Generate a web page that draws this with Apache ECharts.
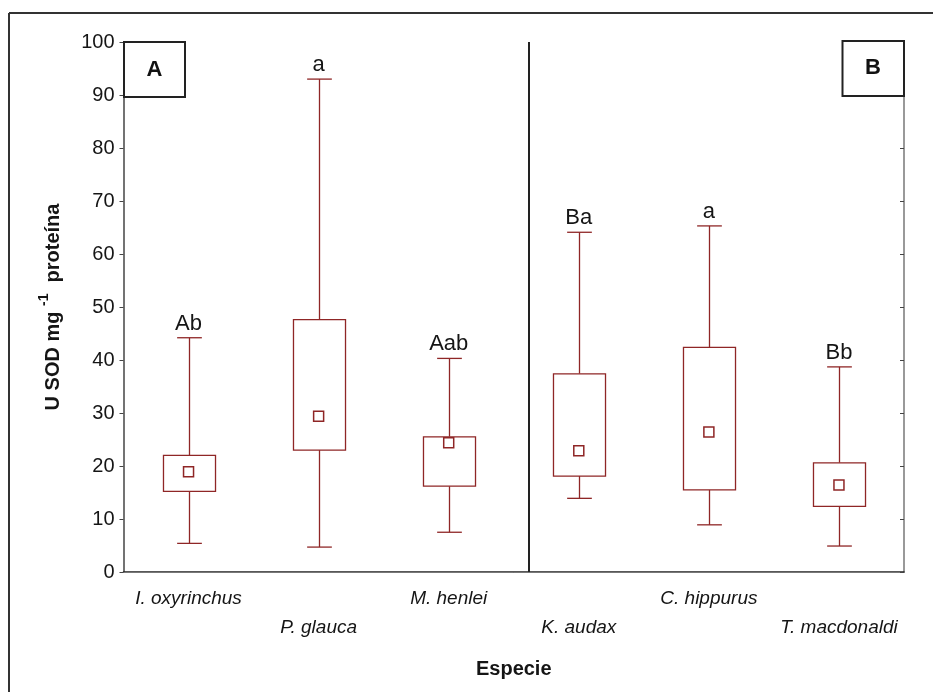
<!DOCTYPE html>
<html>
<head>
<meta charset="utf-8">
<script src="https://cdn.jsdelivr.net/npm/echarts@6/dist/echarts.min.js"></script>
<style>
  html, body { margin: 0; padding: 0; background: #fff; }
  #chart { width: 933px; height: 692px; }
</style>
</head>
<body>
<div id="chart"></div>
<script>
// Superoxide dismutase activity per species (box: 25–75 %, whiskers: range, square: central value)
const species = ['I. oxyrinchus', 'P. glauca', 'M. henlei', 'K. audax', 'C. hippurus', 'T. macdonaldi'];
const whiskerLow  = [5.4, 4.7, 7.5, 13.9, 8.9, 4.9];
const boxLow      = [15.2, 23.0, 16.2, 18.1, 15.5, 12.4];
const boxHigh     = [22.0, 47.6, 25.5, 37.4, 42.4, 20.6];
const whiskerHigh = [44.2, 93.0, 40.3, 64.1, 65.3, 38.7];
const centre      = [18.9, 29.4, 24.4, 22.9, 26.4, 16.4];
const groupLetters = ['Ab', 'a', 'Aab', 'Ba', 'a', 'Bb'];
const yTicks = [0, 10, 20, 30, 40, 50, 60, 70, 80, 90, 100];

const RED = '#8f2626';
const TEXT = '#151515';
const FONT = '"Liberation Sans", Arial, sans-serif';

const gridBox = { left: 123.5, top: 42, width: 780.5, height: 530 };

function renderBox(params, api) {
  const i = api.value(0);
  const pLow = api.coord([i, api.value(1)]);
  const pQ1 = api.coord([i, api.value(2)]);
  const pQ3 = api.coord([i, api.value(3)]);
  const pHigh = api.coord([i, api.value(4)]);
  const band = api.size([1, 0])[0];
  const bw = band * 0.4;
  const cw = band * 0.19;
  const x = Math.round(pLow[0]) + 0.5;
  const st = { stroke: RED, lineWidth: 1.3, fill: null };
  return {
    type: 'group',
    children: [
      { type: 'line', shape: { x1: x, y1: pLow[1], x2: x, y2: pQ1[1] }, style: st },
      { type: 'line', shape: { x1: x, y1: pQ3[1], x2: x, y2: pHigh[1] }, style: st },
      { type: 'line', shape: { x1: x - cw / 2, y1: pLow[1], x2: x + cw / 2, y2: pLow[1] }, style: st },
      { type: 'line', shape: { x1: x - cw / 2, y1: pHigh[1], x2: x + cw / 2, y2: pHigh[1] }, style: st },
      { type: 'rect', shape: { x: x - bw / 2, y: pQ3[1], width: bw, height: pQ1[1] - pQ3[1] },
        style: { stroke: RED, lineWidth: 1.3, fill: '#fff' } }
    ]
  };
}

const chart = echarts.init(document.getElementById('chart'), null, { renderer: 'canvas' });

chart.setOption({
  animation: false,
  backgroundColor: '#fff',
  grid: gridBox,
  xAxis: [
    {
      type: 'category', data: species, position: 'bottom', boundaryGap: true,
      axisLine: { lineStyle: { color: '#222', width: 1.5 } },
      axisTick: { inside: true, length: 4, alignWithLabel: true, lineStyle: { color: '#666' } },
      axisLabel: {
        interval: 0, margin: 12, color: TEXT, fontFamily: FONT, fontSize: 19, fontStyle: 'italic',
        lineHeight: 29,
        formatter: (v, idx) => (idx % 2 === 1 ? '\n' + v : v)
      },
      splitLine: { show: false },
      name: 'Especie', nameLocation: 'middle', nameGap: 87,
      nameTextStyle: { fontFamily: FONT, fontSize: 20, fontWeight: 'bold', color: TEXT }
    },
    {
      type: 'category', data: species, position: 'top', boundaryGap: true,
      axisLine: { lineStyle: { color: '#777', width: 1 } },
      axisTick: { inside: true, length: 4, alignWithLabel: true, lineStyle: { color: '#666' } },
      axisLabel: { show: false }
    }
  ],
  yAxis: [
    {
      type: 'value', min: 0, max: 100, interval: 10, position: 'left',
      axisLine: { show: true, lineStyle: { color: '#444', width: 1.5 } },
      axisTick: { show: true, length: 4, lineStyle: { color: '#444' } },
      axisLabel: {
        margin: 9, color: TEXT, fontFamily: FONT, fontSize: 20,
        formatter: v => (yTicks.indexOf(v) >= 0 ? String(v) : '')
      },
      splitLine: { show: false }
    },
    {
      type: 'value', min: 0, max: 100, interval: 10, position: 'right',
      axisLine: { show: true, lineStyle: { color: '#777', width: 1.5 } },
      axisTick: { show: true, inside: true, length: 4, lineStyle: { color: '#444' } },
      axisLabel: { show: false },
      splitLine: { show: false }
    }
  ],
  series: [
    {
      type: 'custom',
      renderItem: renderBox,
      encode: { x: 0, y: [1, 2, 3, 4] },
      data: species.map((s, i) => [i, whiskerLow[i], boxLow[i], boxHigh[i], whiskerHigh[i]]),
      z: 2
    },
    {
      type: 'scatter',
      symbol: 'rect', symbolSize: 10,
      itemStyle: { color: '#fff', borderColor: RED, borderWidth: 1.5, opacity: 1 },
      data: species.map((s, i) => [i, centre[i]]),
      z: 3
    },
    {
      type: 'scatter',
      symbolSize: 0,
      itemStyle: { opacity: 1 },
      data: species.map((s, i) => [i, whiskerHigh[i]]),
      label: {
        show: true, position: 'top', distance: 3, opacity: 1,
        formatter: p => groupLetters[p.dataIndex],
        fontFamily: FONT, fontSize: 22, color: TEXT
      },
      z: 4
    }
  ],
  graphic: [
    // outer frame (left and top edges)
    { type: 'line', shape: { x1: 9, y1: 13, x2: 940, y2: 13 }, style: { stroke: '#333', lineWidth: 2 }, silent: true },
    { type: 'line', shape: { x1: 9, y1: 13, x2: 9, y2: 700 }, style: { stroke: '#333', lineWidth: 2 }, silent: true },
    // divider between the two groups
    { type: 'line', shape: { x1: 529, y1: 42, x2: 529, y2: 572 }, style: { stroke: '#222', lineWidth: 2 }, z: 10, silent: true },
    // group tags
    { type: 'rect', shape: { x: 124, y: 42, width: 61, height: 55 }, style: { fill: '#fff', stroke: '#222', lineWidth: 2 }, z: 20 },
    { type: 'text', x: 154.5, y: 70, z: 21,
      style: { text: 'A', fontFamily: FONT, fontSize: 22, fontWeight: 'bold', fill: '#111', align: 'center', verticalAlign: 'middle' } },
    { type: 'rect', shape: { x: 842.5, y: 41, width: 61.5, height: 55 }, style: { fill: '#fff', stroke: '#222', lineWidth: 2 }, z: 20 },
    { type: 'text', x: 873, y: 68, z: 21,
      style: { text: 'B', fontFamily: FONT, fontSize: 22, fontWeight: 'bold', fill: '#111', align: 'center', verticalAlign: 'middle' } },
    // y-axis title with superscript
    { type: 'text', x: 50, y: 307, rotation: Math.PI / 2, z: 21,
      style: {
        text: '{m|U SOD mg }{s|-1}{m|  proteína}',
        align: 'center', verticalAlign: 'middle',
        rich: {
          m: { fontFamily: FONT, fontSize: 20, fontWeight: 'bold', fill: TEXT, lineHeight: 26, verticalAlign: 'bottom' },
          s: { fontFamily: FONT, fontSize: 14, fontWeight: 'bold', fill: TEXT, lineHeight: 26, verticalAlign: 'top', padding: [0, 0, 10, 0] }
        }
      } }
  ]
});
</script>
</body>
</html>
